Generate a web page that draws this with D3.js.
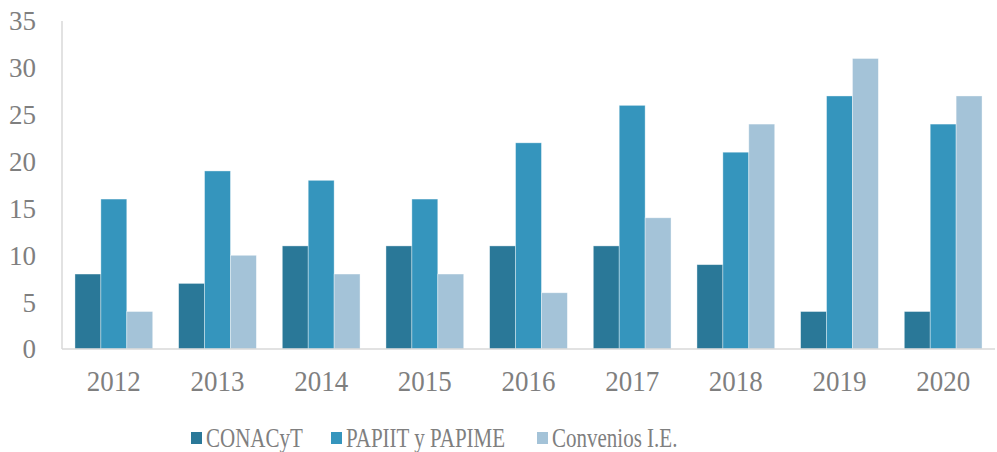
<!DOCTYPE html>
<html>
<head>
<meta charset="utf-8">
<script src="https://cdn.jsdelivr.net/npm/d3@7"></script>
<style>
  body { margin: 0; background: #fff; }
  text { font-family: "Liberation Serif", "Times New Roman", serif; fill: #7f7f7f; }
</style>
</head>
<body>
<div id="chart"></div>
<script>
const years = ["2012", "2013", "2014", "2015", "2016", "2017", "2018", "2019", "2020"];
const seriesNames = ["CONACyT", "PAPIIT y PAPIME", "Convenios I.E."];
const conacyt = [8, 7, 11, 11, 11, 11, 9, 4, 4];
const papiit = [16, 19, 18, 16, 22, 26, 21, 27, 24];
const convenios = [4, 10, 8, 8, 6, 14, 24, 31, 27];
const yTicks = [0, 5, 10, 15, 20, 25, 30, 35];
const colors = ["#2a7898", "#3595bd", "#a4c3d8"];

const seriesValues = [conacyt, papiit, convenios];

const width = 997, height = 452;
const margin = { top: 21, right: 2, bottom: 103, left: 62 };
const innerW = width - margin.left - margin.right;
const innerH = height - margin.top - margin.bottom;

const svg = d3.select("#chart").append("svg")
    .attr("width", width)
    .attr("height", height);

const g = svg.append("g")
    .attr("transform", `translate(${margin.left},${margin.top})`);

const x = d3.scaleBand().domain(years).range([0, innerW]).paddingInner(0.25).paddingOuter(0.125);
const xs = d3.scaleBand().domain(seriesNames).range([0, x.bandwidth()]);
const y = d3.scaleLinear().domain([0, 35]).range([innerH, 0]);

// y labels, no tick marks
g.selectAll(".ylab")
    .data(yTicks)
    .enter().append("text")
    .attr("class", "ylab")
    .attr("x", -26)
    .attr("y", d => y(d))
    .attr("dy", "0.35em")
    .style("text-anchor", "end")
    .style("font-size", "27px")
    .text(d => d);

const groups = g.selectAll(".year")
    .data(years)
    .enter().append("g")
    .attr("transform", d => `translate(${x(d)},0)`);

groups.selectAll("rect")
    .data((d, i) => seriesNames.map((s, j) => ({ s: s, v: seriesValues[j][i], c: colors[j] })))
    .enter().append("rect")
    .attr("x", d => xs(d.s))
    .attr("y", d => y(d.v))
    .attr("width", xs.bandwidth())
    .attr("height", d => innerH - y(d.v))
    .attr("fill", d => d.c)
    .attr("stroke", "#ffffff")
    .attr("stroke-opacity", 0.5)
    .attr("stroke-width", 0.75);

// axis lines
g.append("line")
    .attr("x1", 0).attr("x2", 0)
    .attr("y1", 0).attr("y2", innerH)
    .attr("stroke", "#d9d9d9").attr("stroke-width", 1.5);
g.append("line")
    .attr("x1", 0).attr("x2", innerW)
    .attr("y1", innerH).attr("y2", innerH)
    .attr("stroke", "#d9d9d9").attr("stroke-width", 1.5);

g.selectAll(".xlab")
    .data(years)
    .enter().append("text")
    .attr("class", "xlab")
    .attr("transform", d => `translate(${x(d) + x.bandwidth() / 2},${innerH + 42}) scale(1,1.12)`)
    .style("text-anchor", "middle")
    .style("font-size", "27px")
    .text(d => d);

// legend
const legendX = [191, 331, 537];
const legend = svg.append("g").attr("transform", "translate(0,438)");
seriesNames.forEach((s, i) => {
    legend.append("rect")
        .attr("x", legendX[i]).attr("y", -6)
        .attr("width", 11).attr("height", 12)
        .attr("fill", colors[i]);
    legend.append("text")
        .attr("transform", `translate(${legendX[i] + 15},9) scale(1,1.25)`)
        .style("font-size", "21px")
        .text(s);
});
</script>
</body>
</html>
